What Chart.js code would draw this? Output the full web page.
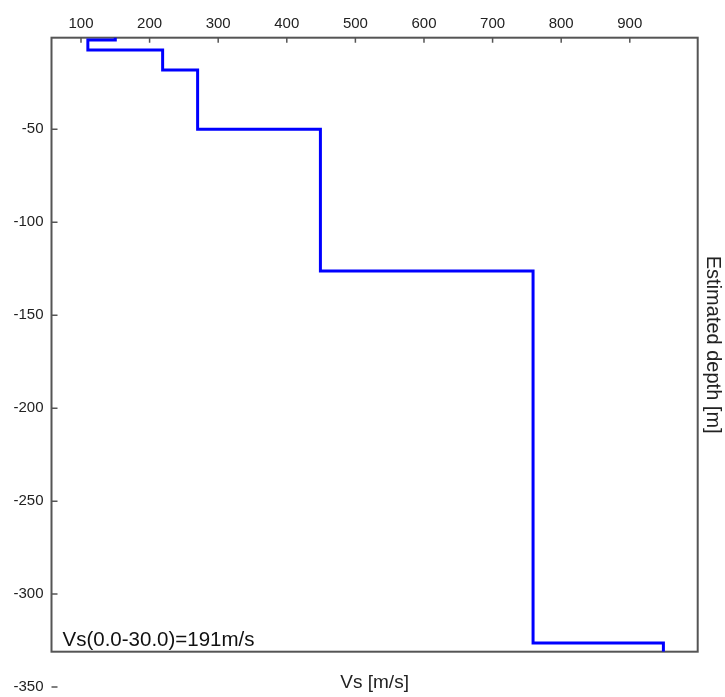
<!DOCTYPE html>
<html>
<head>
<meta charset="utf-8">
<script src="https://cdn.jsdelivr.net/npm/chart.js@4/dist/chart.umd.min.js"></script>
<style>
  html, body { margin: 0; padding: 0; background: #fff; }
  #wrap { width: 725px; height: 697px; }
</style>
</head>
<body>
<div id="wrap"><canvas id="profile"></canvas></div>
<script>
// layer tops (m below surface) and shear wave velocity of each layer
const layerTop = [0, 1.9, 7.3, 18.1, 50, 126.2, 326.3];
const layerVs = [150, 110, 219, 270, 449, 759, 949];
const bottomDepth = 331;
const depthTicks = [-50, -100, -150, -200, -250, -300, -350];
const vsTicks = [100, 200, 300, 400, 500, 600, 700, 800, 900];
const vs30Text = 'Vs(0.0-30.0)=191m/s';

const fontName = '"Liberation Sans", Arial, sans-serif';
const frameColor = '#555';

// step profile: each layer goes from its top to the next top at constant Vs
const points = [];
layerVs.forEach((v, i) => {
  const bot = i + 1 < layerTop.length ? layerTop[i + 1] : bottomDepth;
  points.push({ x: v, y: -layerTop[i] });
  points.push({ x: v, y: -bot });
});

const frame = {
  id: 'frame',
  beforeDatasetsDraw(chart) {
    const { ctx, chartArea: a, scales } = chart;
    ctx.save();
    ctx.strokeStyle = frameColor;
    ctx.lineWidth = 2;
    ctx.strokeRect(a.left, a.top, a.right - a.left, a.bottom - a.top);
    ctx.lineWidth = 1.5;
    ctx.beginPath();
    scales.x.ticks.forEach(t => {
      const px = scales.x.getPixelForValue(t.value);
      ctx.moveTo(px, a.top);
      ctx.lineTo(px, a.top + 5);
    });
    scales.y.ticks.forEach(t => {
      const py = scales.y.getPixelForValue(t.value);
      ctx.moveTo(a.left, py);
      ctx.lineTo(a.left + 6, py);
    });
    ctx.stroke();
    ctx.restore();
  },
  afterDraw(chart) {
    const { ctx, chartArea: a } = chart;
    ctx.save();
    ctx.fillStyle = '#111';
    ctx.font = '20.5px ' + fontName;
    ctx.textBaseline = 'alphabetic';
    ctx.fillText(vs30Text, a.left + 11, a.bottom - 6);
    ctx.restore();
  }
};

new Chart(document.getElementById('profile'), {
  type: 'scatter',
  data: {
    datasets: [{
      data: points,
      showLine: true,
      borderColor: '#0000ff',
      borderWidth: 3,
      pointRadius: 0,
      fill: false,
      tension: 0,
      xAxisID: 'x',
      yAxisID: 'y'
    }]
  },
  options: {
    responsive: true,
    maintainAspectRatio: false,
    animation: false,
    events: [],
    layout: { padding: { left: 4, top: 0, right: 0, bottom: 0 } },
    plugins: { legend: { display: false }, tooltip: { enabled: false } },
    scales: {
      x: {
        type: 'linear',
        position: 'top',
        min: 57,
        max: 999,
        grid: { display: false, drawTicks: false, tickLength: 0 },
        border: { display: false },
        ticks: { stepSize: 100, includeBounds: false, padding: 5, color: '#222', font: { family: fontName, size: 15 } },
        afterBuildTicks: s => { s.ticks = vsTicks.map(v => ({ value: v })); },
        afterFit: s => { s.height = 37.7; }
      },
      x2: {
        type: 'linear',
        position: 'bottom',
        display: true,
        grid: { display: false, drawTicks: false, tickLength: 0 },
        border: { display: false },
        ticks: { display: false },
        title: { display: true, text: 'Vs [m/s]', color: '#222', font: { family: fontName, size: 19 }, padding: { top: 0, bottom: 3 } },
        afterFit: s => { s.height = 45.3; }
      },
      y: {
        type: 'linear',
        position: 'left',
        min: -bottomDepth,
        max: -0.7,
        grid: { display: false, drawTicks: false, tickLength: 0 },
        border: { display: false },
        ticks: { padding: 8, color: '#222', font: { family: fontName, size: 15 } },
        afterBuildTicks: s => { s.ticks = depthTicks.map(v => ({ value: v })); },
        afterFit: s => { s.width = 47.5; }
      },
      y2: {
        type: 'linear',
        position: 'right',
        display: true,
        grid: { display: false, drawTicks: false, tickLength: 0 },
        border: { display: false },
        ticks: { display: false },
        title: { display: true, text: 'Estimated depth [m]', color: '#222', font: { family: fontName, size: 20 }, padding: { top: 0, bottom: 3 } },
        afterFit: s => { s.width = 27.3; }
      }
    }
  },
  plugins: [frame]
});
</script>
</body>
</html>
